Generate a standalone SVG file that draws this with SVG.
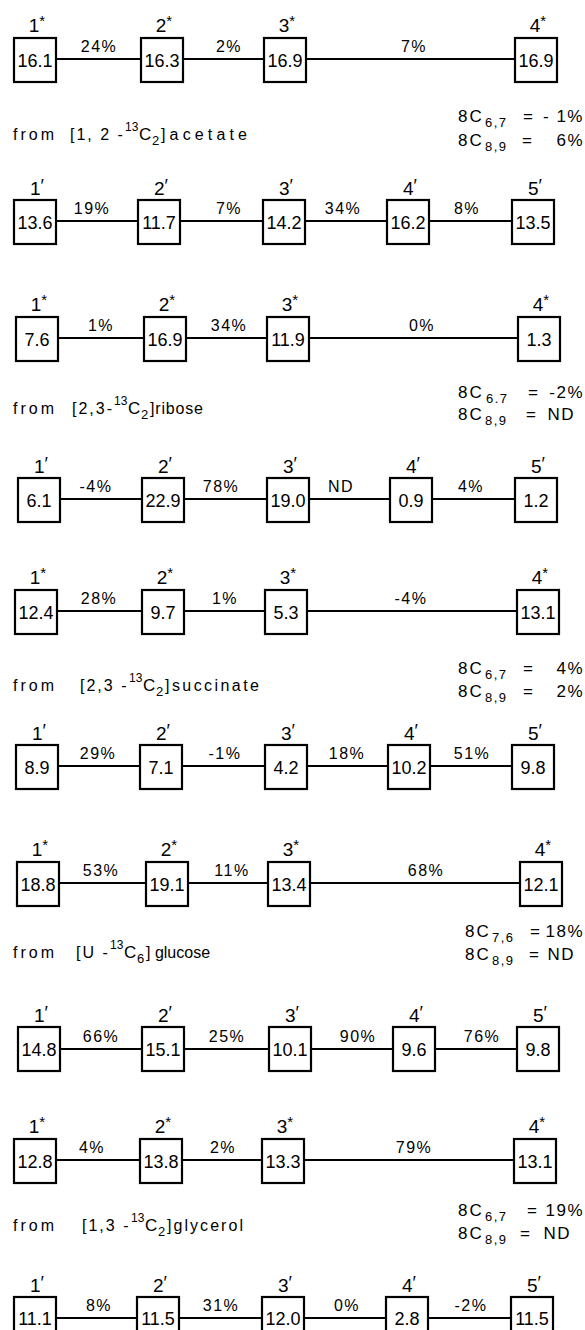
<svg xmlns="http://www.w3.org/2000/svg" width="585" height="1330" viewBox="0 0 585 1330">
<style>
text{font-family:"Liberation Sans",Arial,sans-serif;fill:#000}
.box{fill:#fff;stroke:#000;stroke-width:2.2}
.conn line{stroke:#000;stroke-width:2.2}
.v{font-size:18px;text-anchor:middle}
.l{font-size:19px;text-anchor:middle}
.st{font-size:15px}
.pr{font-size:18px}
.p{font-size:16px;text-anchor:middle;letter-spacing:1.5px}
.src{font-size:16px;letter-spacing:2px}
.w{font-size:16px}
.sup{font-size:12px}
.c{font-size:17px}
.eq{font-size:17px;letter-spacing:2px}
.sub{font-size:13px;letter-spacing:1.5px}
.e{font-size:17px}
.r{font-size:17px;text-anchor:end;letter-spacing:1.5px}
</style>
<rect width="585" height="1330" fill="#fff"/>

<!-- connectors -->
<g class="conn">
<line x1="56" y1="59" x2="141" y2="59"/><line x1="183" y1="59" x2="264" y2="59"/><line x1="306" y1="59" x2="515" y2="59"/>
<line x1="56" y1="221" x2="138" y2="221"/><line x1="180" y1="221" x2="263" y2="221"/><line x1="305" y1="221" x2="387" y2="221"/><line x1="429" y1="221" x2="512" y2="221"/>
<line x1="58" y1="338" x2="144" y2="338"/><line x1="186" y1="338" x2="267" y2="338"/><line x1="309" y1="338" x2="518" y2="338"/>
<line x1="60" y1="499" x2="142" y2="499"/><line x1="184" y1="499" x2="267" y2="499"/><line x1="309" y1="499" x2="390" y2="499"/><line x1="432" y1="499" x2="515" y2="499"/>
<line x1="57" y1="611" x2="142" y2="611"/><line x1="184" y1="611" x2="265" y2="611"/><line x1="307" y1="611" x2="517" y2="611"/>
<line x1="58" y1="766" x2="140" y2="766"/><line x1="182" y1="766" x2="265" y2="766"/><line x1="307" y1="766" x2="388" y2="766"/><line x1="430" y1="766" x2="512" y2="766"/>
<line x1="59" y1="883" x2="146" y2="883"/><line x1="188" y1="883" x2="268" y2="883"/><line x1="310" y1="883" x2="520" y2="883"/>
<line x1="60" y1="1049" x2="142" y2="1049"/><line x1="184" y1="1049" x2="269" y2="1049"/><line x1="311" y1="1049" x2="393" y2="1049"/><line x1="435" y1="1049" x2="517" y2="1049"/>
<line x1="56" y1="1160" x2="140" y2="1160"/><line x1="182" y1="1160" x2="262" y2="1160"/><line x1="304" y1="1160" x2="514" y2="1160"/>
<line x1="56" y1="1318" x2="137" y2="1318"/><line x1="179" y1="1318" x2="262" y2="1318"/><line x1="304" y1="1318" x2="386" y2="1318"/><line x1="428" y1="1318" x2="511" y2="1318"/>
</g>

<!-- percent labels -->
<g id="pcts">
<text class="p" x="99" y="52">24%</text><text class="p" x="229" y="52">2%</text><text class="p" x="414" y="52">7%</text>
<text class="p" x="92" y="214">19%</text><text class="p" x="229" y="214">7%</text><text class="p" x="343" y="214">34%</text><text class="p" x="467" y="214">8%</text>
<text class="p" x="101" y="331">1%</text><text class="p" x="229" y="331">34%</text><text class="p" x="422" y="331">0%</text>
<text class="p" x="96" y="492">-4%</text><text class="p" x="221" y="492">78%</text><text class="p" x="341" y="492">ND</text><text class="p" x="471" y="492">4%</text>
<text class="p" x="99" y="604">28%</text><text class="p" x="225" y="604">1%</text><text class="p" x="411" y="604">-4%</text>
<text class="p" x="98" y="759">29%</text><text class="p" x="225" y="759">-1%</text><text class="p" x="347" y="759">18%</text><text class="p" x="472" y="759">51%</text>
<text class="p" x="101" y="876">53%</text><text class="p" x="232" y="876">11%</text><text class="p" x="426" y="876">68%</text>
<text class="p" x="101" y="1042">66%</text><text class="p" x="227" y="1042">25%</text><text class="p" x="358" y="1042">90%</text><text class="p" x="482" y="1042">76%</text>
<text class="p" x="92" y="1153">4%</text><text class="p" x="223" y="1153">2%</text><text class="p" x="414" y="1153">79%</text>
<text class="p" x="99" y="1311">8%</text><text class="p" x="221" y="1311">31%</text><text class="p" x="347" y="1311">0%</text><text class="p" x="471" y="1311">-2%</text>
</g>

<!-- Row 1 -->
<g id="r1n1"><text class="l" x="37" y="32">1<tspan class="st" dy="-6">*</tspan></text><rect class="box" x="14" y="38" width="42" height="44"/><text class="v" x="35" y="67">16.1</text></g>
<g id="r1n2"><text class="l" x="164" y="32">2<tspan class="st" dy="-6">*</tspan></text><rect class="box" x="141" y="38" width="42" height="44"/><text class="v" x="162" y="67">16.3</text></g>
<g id="r1n3"><text class="l" x="287" y="32">3<tspan class="st" dy="-6">*</tspan></text><rect class="box" x="264" y="38" width="42" height="44"/><text class="v" x="285" y="67">16.9</text></g>
<g id="r1n4"><text class="l" x="538" y="32">4<tspan class="st" dy="-6">*</tspan></text><rect class="box" x="515" y="38" width="42" height="44"/><text class="v" x="536" y="67">16.9</text></g>

<g id="src1">
<text class="src" x="13" y="140" textLength="43">from</text>
<text class="src" x="70" y="140">[1, 2 -</text><text class="sup" x="125" y="131">13</text><text class="c" x="139" y="140">C</text><text class="sub" x="152" y="145">2</text>
<text class="src" x="161" y="140" textLength="88" lengthAdjust="spacing">]acetate</text>
<text class="eq" x="458" y="122">8C</text><text class="sub" x="485" y="127">6,7</text><text class="e" x="523" y="122">=</text><text class="r" x="584" y="122">- 1%</text>
<text class="eq" x="458" y="146">8C</text><text class="sub" x="485" y="151">8,9</text><text class="e" x="522" y="146">=</text><text class="r" x="584" y="146">6%</text>
</g>

<!-- Row 2 -->
<g id="r2n1"><text class="l" x="37" y="195">1<tspan class="pr" dy="-3">′</tspan></text><rect class="box" x="14" y="200" width="42" height="44"/><text class="v" x="35" y="229">13.6</text></g>
<g id="r2n2"><text class="l" x="161" y="195">2<tspan class="pr" dy="-3">′</tspan></text><rect class="box" x="138" y="200" width="42" height="44"/><text class="v" x="159" y="229">11.7</text></g>
<g id="r2n3"><text class="l" x="286" y="195">3<tspan class="pr" dy="-3">′</tspan></text><rect class="box" x="263" y="200" width="42" height="44"/><text class="v" x="284" y="229">14.2</text></g>
<g id="r2n4"><text class="l" x="410" y="195">4<tspan class="pr" dy="-3">′</tspan></text><rect class="box" x="387" y="200" width="42" height="44"/><text class="v" x="408" y="229">16.2</text></g>
<g id="r2n5"><text class="l" x="535" y="195">5<tspan class="pr" dy="-3">′</tspan></text><rect class="box" x="512" y="200" width="42" height="44"/><text class="v" x="533" y="229">13.5</text></g>

<!-- Row 3 -->
<g id="r3n1"><text class="l" x="39" y="311">1<tspan class="st" dy="-6">*</tspan></text><rect class="box" x="16" y="317" width="42" height="44"/><text class="v" x="37" y="346">7.6</text></g>
<g id="r3n2"><text class="l" x="167" y="311">2<tspan class="st" dy="-6">*</tspan></text><rect class="box" x="144" y="317" width="42" height="44"/><text class="v" x="165" y="346">16.9</text></g>
<g id="r3n3"><text class="l" x="290" y="311">3<tspan class="st" dy="-6">*</tspan></text><rect class="box" x="267" y="317" width="42" height="44"/><text class="v" x="288" y="346">11.9</text></g>
<g id="r3n4"><text class="l" x="541" y="311">4<tspan class="st" dy="-6">*</tspan></text><rect class="box" x="518" y="317" width="42" height="44"/><text class="v" x="539" y="346">1.3</text></g>

<g id="src2">
<text class="src" x="13" y="414" textLength="43">from</text>
<text class="src" x="72" y="414">[2,3-</text><text class="sup" x="114" y="405">13</text><text class="c" x="128" y="414">C</text><text class="sub" x="141" y="419">2</text>
<text class="src" x="150" y="414" textLength="55" lengthAdjust="spacing">]ribose</text>
<text class="eq" x="458" y="398">8C</text><text class="sub" x="486" y="403">6.7</text><text class="e" x="528" y="398">=</text><text class="r" x="584" y="398">-2%</text>
<text class="eq" x="458" y="420">8C</text><text class="sub" x="485" y="425">8,9</text><text class="e" x="526" y="420">=</text><text class="r" x="575" y="420">ND</text>
</g>

<!-- Row 4 -->
<g id="r4n1"><text class="l" x="41" y="473">1<tspan class="pr" dy="-3">′</tspan></text><rect class="box" x="18" y="478" width="42" height="44"/><text class="v" x="39" y="507">6.1</text></g>
<g id="r4n2"><text class="l" x="165" y="473">2<tspan class="pr" dy="-3">′</tspan></text><rect class="box" x="142" y="478" width="42" height="44"/><text class="v" x="163" y="507">22.9</text></g>
<g id="r4n3"><text class="l" x="290" y="473">3<tspan class="pr" dy="-3">′</tspan></text><rect class="box" x="267" y="478" width="42" height="44"/><text class="v" x="288" y="507">19.0</text></g>
<g id="r4n4"><text class="l" x="413" y="473">4<tspan class="pr" dy="-3">′</tspan></text><rect class="box" x="390" y="478" width="42" height="44"/><text class="v" x="411" y="507">0.9</text></g>
<g id="r4n5"><text class="l" x="538" y="473">5<tspan class="pr" dy="-3">′</tspan></text><rect class="box" x="515" y="478" width="42" height="44"/><text class="v" x="536" y="507">1.2</text></g>

<!-- Row 5 -->
<g id="r5n1"><text class="l" x="38" y="584">1<tspan class="st" dy="-6">*</tspan></text><rect class="box" x="15" y="590" width="42" height="44"/><text class="v" x="36" y="619">12.4</text></g>
<g id="r5n2"><text class="l" x="165" y="584">2<tspan class="st" dy="-6">*</tspan></text><rect class="box" x="142" y="590" width="42" height="44"/><text class="v" x="163" y="619">9.7</text></g>
<g id="r5n3"><text class="l" x="288" y="584">3<tspan class="st" dy="-6">*</tspan></text><rect class="box" x="265" y="590" width="42" height="44"/><text class="v" x="286" y="619">5.3</text></g>
<g id="r5n4"><text class="l" x="540" y="584">4<tspan class="st" dy="-6">*</tspan></text><rect class="box" x="517" y="590" width="42" height="44"/><text class="v" x="538" y="619">13.1</text></g>

<g id="src3">
<text class="src" x="13" y="691" textLength="43">from</text>
<text class="src" x="80" y="691">[2,3 -</text><text class="sup" x="129" y="682">13</text><text class="c" x="143" y="691">C</text><text class="sub" x="156" y="696">2</text>
<text class="src" x="165" y="691" textLength="96" lengthAdjust="spacing">]succinate</text>
<text class="eq" x="458" y="674">8C</text><text class="sub" x="485" y="679">6,7</text><text class="e" x="523" y="674">=</text><text class="r" x="584" y="674">4%</text>
<text class="eq" x="458" y="697">8C</text><text class="sub" x="485" y="702">8,9</text><text class="e" x="523" y="697">=</text><text class="r" x="584" y="697">2%</text>
</g>

<!-- Row 6 -->
<g id="r6n1"><text class="l" x="39" y="740">1<tspan class="pr" dy="-3">′</tspan></text><rect class="box" x="16" y="745" width="42" height="44"/><text class="v" x="37" y="774">8.9</text></g>
<g id="r6n2"><text class="l" x="163" y="740">2<tspan class="pr" dy="-3">′</tspan></text><rect class="box" x="140" y="745" width="42" height="44"/><text class="v" x="161" y="774">7.1</text></g>
<g id="r6n3"><text class="l" x="288" y="740">3<tspan class="pr" dy="-3">′</tspan></text><rect class="box" x="265" y="745" width="42" height="44"/><text class="v" x="286" y="774">4.2</text></g>
<g id="r6n4"><text class="l" x="411" y="740">4<tspan class="pr" dy="-3">′</tspan></text><rect class="box" x="388" y="745" width="42" height="44"/><text class="v" x="409" y="774">10.2</text></g>
<g id="r6n5"><text class="l" x="535" y="740">5<tspan class="pr" dy="-3">′</tspan></text><rect class="box" x="512" y="745" width="42" height="44"/><text class="v" x="533" y="774">9.8</text></g>

<!-- Row 7 -->
<g id="r7n1"><text class="l" x="40" y="856">1<tspan class="st" dy="-6">*</tspan></text><rect class="box" x="17" y="862" width="42" height="44"/><text class="v" x="38" y="891">18.8</text></g>
<g id="r7n2"><text class="l" x="169" y="856">2<tspan class="st" dy="-6">*</tspan></text><rect class="box" x="146" y="862" width="42" height="44"/><text class="v" x="167" y="891">19.1</text></g>
<g id="r7n3"><text class="l" x="291" y="856">3<tspan class="st" dy="-6">*</tspan></text><rect class="box" x="268" y="862" width="42" height="44"/><text class="v" x="289" y="891">13.4</text></g>
<g id="r7n4"><text class="l" x="543" y="856">4<tspan class="st" dy="-6">*</tspan></text><rect class="box" x="520" y="862" width="42" height="44"/><text class="v" x="541" y="891">12.1</text></g>

<g id="src4">
<text class="src" x="13" y="958" textLength="43">from</text>
<text class="src" x="76" y="958">[U -</text><text class="sup" x="110" y="949">13</text><text class="c" x="124" y="958">C</text><text class="sub" x="137" y="963">6</text>
<text class="w" x="146" y="958">] glucose</text>
<text class="eq" x="465" y="937">8C</text><text class="sub" x="492" y="942">7,6</text><text class="e" x="530" y="937">=</text><text class="r" x="584" y="937">18%</text>
<text class="eq" x="465" y="960">8C</text><text class="sub" x="492" y="965">8,9</text><text class="e" x="529" y="960">=</text><text class="r" x="575" y="960">ND</text>
</g>

<!-- Row 8 -->
<g id="r8n1"><text class="l" x="41" y="1022">1<tspan class="pr" dy="-3">′</tspan></text><rect class="box" x="18" y="1027" width="42" height="44"/><text class="v" x="39" y="1056">14.8</text></g>
<g id="r8n2"><text class="l" x="165" y="1022">2<tspan class="pr" dy="-3">′</tspan></text><rect class="box" x="142" y="1027" width="42" height="44"/><text class="v" x="163" y="1056">15.1</text></g>
<g id="r8n3"><text class="l" x="292" y="1022">3<tspan class="pr" dy="-3">′</tspan></text><rect class="box" x="269" y="1027" width="42" height="44"/><text class="v" x="290" y="1056">10.1</text></g>
<g id="r8n4"><text class="l" x="416" y="1022">4<tspan class="pr" dy="-3">′</tspan></text><rect class="box" x="393" y="1027" width="42" height="44"/><text class="v" x="414" y="1056">9.6</text></g>
<g id="r8n5"><text class="l" x="540" y="1022">5<tspan class="pr" dy="-3">′</tspan></text><rect class="box" x="517" y="1027" width="42" height="44"/><text class="v" x="538" y="1056">9.8</text></g>

<!-- Row 9 -->
<g id="r9n1"><text class="l" x="37" y="1133">1<tspan class="st" dy="-6">*</tspan></text><rect class="box" x="14" y="1139" width="42" height="44"/><text class="v" x="35" y="1168">12.8</text></g>
<g id="r9n2"><text class="l" x="163" y="1133">2<tspan class="st" dy="-6">*</tspan></text><rect class="box" x="140" y="1139" width="42" height="44"/><text class="v" x="161" y="1168">13.8</text></g>
<g id="r9n3"><text class="l" x="285" y="1133">3<tspan class="st" dy="-6">*</tspan></text><rect class="box" x="262" y="1139" width="42" height="44"/><text class="v" x="283" y="1168">13.3</text></g>
<g id="r9n4"><text class="l" x="537" y="1133">4<tspan class="st" dy="-6">*</tspan></text><rect class="box" x="514" y="1139" width="42" height="44"/><text class="v" x="535" y="1168">13.1</text></g>

<g id="src5">
<text class="src" x="13" y="1231" textLength="43">from</text>
<text class="src" x="82" y="1231">[1,3 -</text><text class="sup" x="131" y="1222">13</text><text class="c" x="145" y="1231">C</text><text class="sub" x="158" y="1236">2</text>
<text class="src" x="167" y="1231" textLength="78" lengthAdjust="spacing">]glycerol</text>
<text class="eq" x="458" y="1216">8C</text><text class="sub" x="485" y="1221">6,7</text><text class="e" x="527" y="1216">=</text><text class="r" x="584" y="1216">19%</text>
<text class="eq" x="458" y="1239">8C</text><text class="sub" x="485" y="1244">8,9</text><text class="e" x="520" y="1239">=</text><text class="r" x="571" y="1239">ND</text>
</g>

<!-- Row 10 -->
<g id="r10n1"><text class="l" x="37" y="1292">1<tspan class="pr" dy="-3">′</tspan></text><rect class="box" x="14" y="1297" width="42" height="44"/><text class="v" x="35" y="1325">11.1</text></g>
<g id="r10n2"><text class="l" x="160" y="1292">2<tspan class="pr" dy="-3">′</tspan></text><rect class="box" x="137" y="1297" width="42" height="44"/><text class="v" x="158" y="1325">11.5</text></g>
<g id="r10n3"><text class="l" x="285" y="1292">3<tspan class="pr" dy="-3">′</tspan></text><rect class="box" x="262" y="1297" width="42" height="44"/><text class="v" x="283" y="1325">12.0</text></g>
<g id="r10n4"><text class="l" x="409" y="1292">4<tspan class="pr" dy="-3">′</tspan></text><rect class="box" x="386" y="1297" width="42" height="44"/><text class="v" x="407" y="1325">2.8</text></g>
<g id="r10n5"><text class="l" x="534" y="1292">5<tspan class="pr" dy="-3">′</tspan></text><rect class="box" x="511" y="1297" width="42" height="44"/><text class="v" x="532" y="1325">11.5</text></g>
</svg>
